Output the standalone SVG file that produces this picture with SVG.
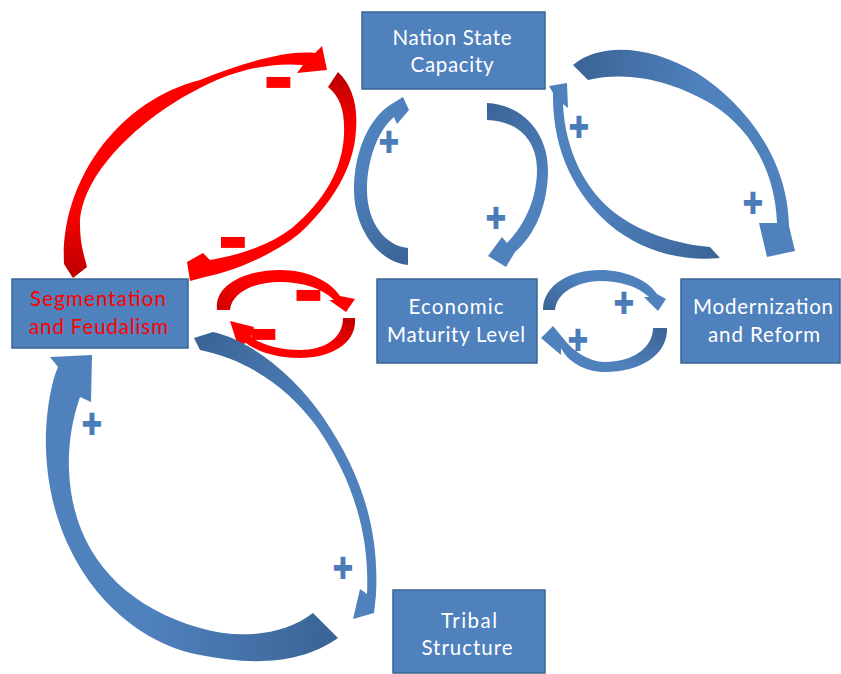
<svg xmlns="http://www.w3.org/2000/svg" width="841" height="674" viewBox="0 0 841 674">
<style>
.box{fill:#4F81BD;stroke:#3A6496;stroke-width:1.5}
.lbl{font-family:Lato,"Liberation Sans",sans-serif;font-size:20.5px;fill:#FFFFFF;text-anchor:middle}
.red{fill:#FF0000}
.plus{font-family:"DejaVu Sans",sans-serif;font-weight:bold;font-size:26px;fill:#4A7CB9;stroke:#4A7CB9;stroke-width:1.8;text-anchor:middle}
.minus{font-family:"DejaVu Sans",sans-serif;font-weight:bold;font-size:38px;fill:#FF0000;text-anchor:middle}
</style>
<defs>
<linearGradient id="gA" gradientUnits="userSpaceOnUse" x1="75" y1="272" x2="110" y2="150"><stop offset="0" stop-color="#C00000"/><stop offset="0.5" stop-color="#FF0000"/></linearGradient>
<linearGradient id="gB" gradientUnits="userSpaceOnUse" x1="334" y1="80" x2="350" y2="170"><stop offset="0" stop-color="#C00000"/><stop offset="0.6" stop-color="#FF0000"/></linearGradient>
<linearGradient id="gR1" gradientUnits="userSpaceOnUse" x1="223" y1="310" x2="245" y2="278"><stop offset="0" stop-color="#D00000"/><stop offset="1" stop-color="#FF0000"/></linearGradient>
<linearGradient id="gR2" gradientUnits="userSpaceOnUse" x1="349" y1="318" x2="335" y2="352"><stop offset="0" stop-color="#C00000"/><stop offset="1" stop-color="#FF0000"/></linearGradient>
<linearGradient id="gC" gradientUnits="userSpaceOnUse" x1="408" y1="256" x2="360" y2="180"><stop offset="0" stop-color="#3B6597"/><stop offset="1" stop-color="#4F81BD"/></linearGradient>
<linearGradient id="gD" gradientUnits="userSpaceOnUse" x1="487" y1="111" x2="545" y2="180"><stop offset="0" stop-color="#3B6597"/><stop offset="1" stop-color="#4F81BD"/></linearGradient>
<linearGradient id="gE" gradientUnits="userSpaceOnUse" x1="715" y1="252" x2="600" y2="200"><stop offset="0" stop-color="#3B6597"/><stop offset="1" stop-color="#4F81BD"/></linearGradient>
<linearGradient id="gF" gradientUnits="userSpaceOnUse" x1="580" y1="72" x2="700" y2="90"><stop offset="0" stop-color="#3B6597"/><stop offset="1" stop-color="#4F81BD"/></linearGradient>
<linearGradient id="gG" gradientUnits="userSpaceOnUse" x1="325" y1="625" x2="150" y2="620"><stop offset="0" stop-color="#3B6597"/><stop offset="1" stop-color="#4F81BD"/></linearGradient>
<linearGradient id="gH" gradientUnits="userSpaceOnUse" x1="205" y1="340" x2="320" y2="420"><stop offset="0" stop-color="#3B6597"/><stop offset="1" stop-color="#4F81BD"/></linearGradient>
<linearGradient id="gB1" gradientUnits="userSpaceOnUse" x1="549" y1="310" x2="575" y2="275"><stop offset="0" stop-color="#3B6597"/><stop offset="1" stop-color="#4F81BD"/></linearGradient>
<linearGradient id="gB2" gradientUnits="userSpaceOnUse" x1="660" y1="328" x2="630" y2="368"><stop offset="0" stop-color="#3B6597"/><stop offset="1" stop-color="#4F81BD"/></linearGradient>
</defs>
<rect width="841" height="674" fill="#FFFFFF"/>

<g id="connectors">
  <!-- Red big: Segmentation -> Nation State -->
  <path fill="url(#gA)" d="M64,264 C60,180 120,100 200,80 C240,64 285,50 315,53 L322,46 L327,70 L297,73 L303,65 C270,62 235,70 200,88 C140,118 80,175 80,225 C80,245 85,258 87,267 L73,278 Z"/>
  <!-- Red big: Nation State -> Segmentation -->
  <path fill="url(#gB)" d="M338,72 C352,85 358,105 356,130 C354,170 330,205 300,233 C280,250 240,270 205,277 L190,281 L187,262 L203,253 L210,260 C240,255 270,245 292,228 C325,200 342,170 344,135 C345,110 340,97 328,87 Z"/>
  <!-- Red small upper: Segmentation -> Economic -->
  <path fill="url(#gR1)" d="M217,310 C214,285 245,270 280,270 C308,270 330,281 340,296 L355,299 L346,312 L329,300 L334,300 C322,288 302,282 280,282 C255,282 232,292 230,310 Z"/>
  <!-- Red small lower: Economic -> Segmentation -->
  <path fill="url(#gR2)" d="M355,318 C357,343 332,358 300,358 C277,358 258,352 246,343 L238,346 L230,321 L254,327 L251,337 C262,345 280,350 300,350 C325,350 343,338 343,318 Z"/>

  <!-- Blue: Economic -> Nation State -->
  <path fill="url(#gC)" d="M408,265 C378,262 354,228 354,190 C354,150 370,118 390,105 L403,97 L409,110 L397,124 L394,117 C378,130 367,160 367,190 C367,222 385,246 408,248 Z"/>
  <!-- Blue: Nation State -> Economic -->
  <path fill="url(#gD)" d="M487,103 C525,105 548,135 548,170 C548,205 535,235 515,252 L506,267 L488,256 L502,237 L507,243 C525,225 537,198 537,170 C537,140 518,121 487,120 Z"/>
  <!-- Blue: Modernization -> Nation State -->
  <path fill="url(#gE)" d="M720,258 C680,262 640,250 610,225 C575,195 552,150 553,93 L549,86 L567,83 L568,108 L563,104 C565,150 585,190 615,213 C640,232 675,244 710,247 Z"/>
  <!-- Blue: Nation State -> Modernization -->
  <path fill="url(#gF)" d="M573,65 C600,42 650,45 697,73 C740,100 788,155 789,226 L795,251 L767,257 L759,223 L777,223 C775,165 745,125 713,105 C675,82 630,70 588,80 Z"/>
  <!-- Blue small upper: Economic -> Modernization -->
  <path fill="url(#gB1)" d="M543,310 C543,285 570,270 600,270 C625,270 648,280 657,294 L666,299 L658,311 L644,297 L649,297 C637,286 620,281 600,281 C575,282 557,293 555,310 Z"/>
  <!-- Blue small lower: Modernization -> Economic -->
  <path fill="url(#gB2)" d="M667,328 C668,355 640,372 605,372 C585,372 568,362 561,348 L561,355 L541,338 L553,326 L563,338 C572,350 588,362 605,362 C632,362 653,348 653,328 Z"/>
  <!-- Blue: Tribal -> Segmentation -->
  <path fill="url(#gG)" d="M338,638 C300,665 250,665 200,655 C120,640 50,560 46,450 C45,420 50,385 58,367 L50,357 L92,355 L91,402 L80,397 C72,420 68,445 69,470 C72,550 120,605 200,628 C240,640 285,635 313,613 Z"/>
  <!-- Blue: Segmentation -> Tribal -->
  <path fill="url(#gH)" d="M213,332 C250,340 295,375 325,420 C355,465 380,520 376,595 L374,613 L353,619 L360,589 L367,594 C370,530 350,475 317,427 C290,390 250,360 200,350 L194,338 Z"/>

  <!-- polarity signs -->
  <text class="minus" transform="translate(278.5,81) scale(1,2.5)" y="12.5">−</text>
  <text class="minus" transform="translate(233,241) scale(1,2.5)" y="12.5">−</text>
  <text class="minus" transform="translate(308.5,294) scale(1,2.5)" y="12.5">−</text>
  <text class="minus" transform="translate(263.5,332.5) scale(1,2.5)" y="12.5">−</text>
  <text class="plus" transform="translate(389,142) scale(1,1.2)" y="8.6">+</text>
  <text class="plus" transform="translate(496,218) scale(1,1.2)" y="8.6">+</text>
  <text class="plus" transform="translate(579,127) scale(1,1.2)" y="8.6">+</text>
  <text class="plus" transform="translate(753,203) scale(1,1.2)" y="8.6">+</text>
  <text class="plus" transform="translate(624,303) scale(1,1.2)" y="8.6">+</text>
  <text class="plus" transform="translate(578,340) scale(1,1.2)" y="8.6">+</text>
  <text class="plus" transform="translate(92,424) scale(1,1.2)" y="8.6">+</text>
  <text class="plus" transform="translate(343,568) scale(1,1.2)" y="8.6">+</text>
</g>

<g id="nation-state-capacity">
  <rect class="box" x="362" y="12" width="183" height="77"/>
  <text class="lbl" x="452" y="45" textLength="119" lengthAdjust="spacing">Nation State</text>
  <text class="lbl" x="452" y="72" textLength="83" lengthAdjust="spacing">Capacity</text>
</g>
<g id="segmentation-and-feudalism">
  <rect class="box" x="12" y="279" width="176" height="69"/>
  <text class="lbl red" x="98" y="306" textLength="136" lengthAdjust="spacing">Segmentation</text>
  <text class="lbl red" x="98.5" y="334" textLength="139" lengthAdjust="spacing">and Feudalism</text>
</g>
<g id="economic-maturity-level">
  <rect class="box" x="377" y="279" width="160" height="84"/>
  <text class="lbl" x="456" y="314" textLength="95" lengthAdjust="spacing">Economic</text>
  <text class="lbl" x="456" y="342" textLength="138" lengthAdjust="spacing">Maturity Level</text>
</g>
<g id="modernization-and-reform">
  <rect class="box" x="681" y="279" width="159" height="84"/>
  <text class="lbl" x="763" y="314" textLength="140" lengthAdjust="spacing">Modernization</text>
  <text class="lbl" x="764" y="342" textLength="112" lengthAdjust="spacing">and Reform</text>
</g>
<g id="tribal-structure">
  <rect class="box" x="393" y="590" width="152" height="83"/>
  <text class="lbl" x="469" y="628" textLength="56" lengthAdjust="spacing">Tribal</text>
  <text class="lbl" x="467" y="655" textLength="91" lengthAdjust="spacing">Structure</text>
</g>
</svg>
